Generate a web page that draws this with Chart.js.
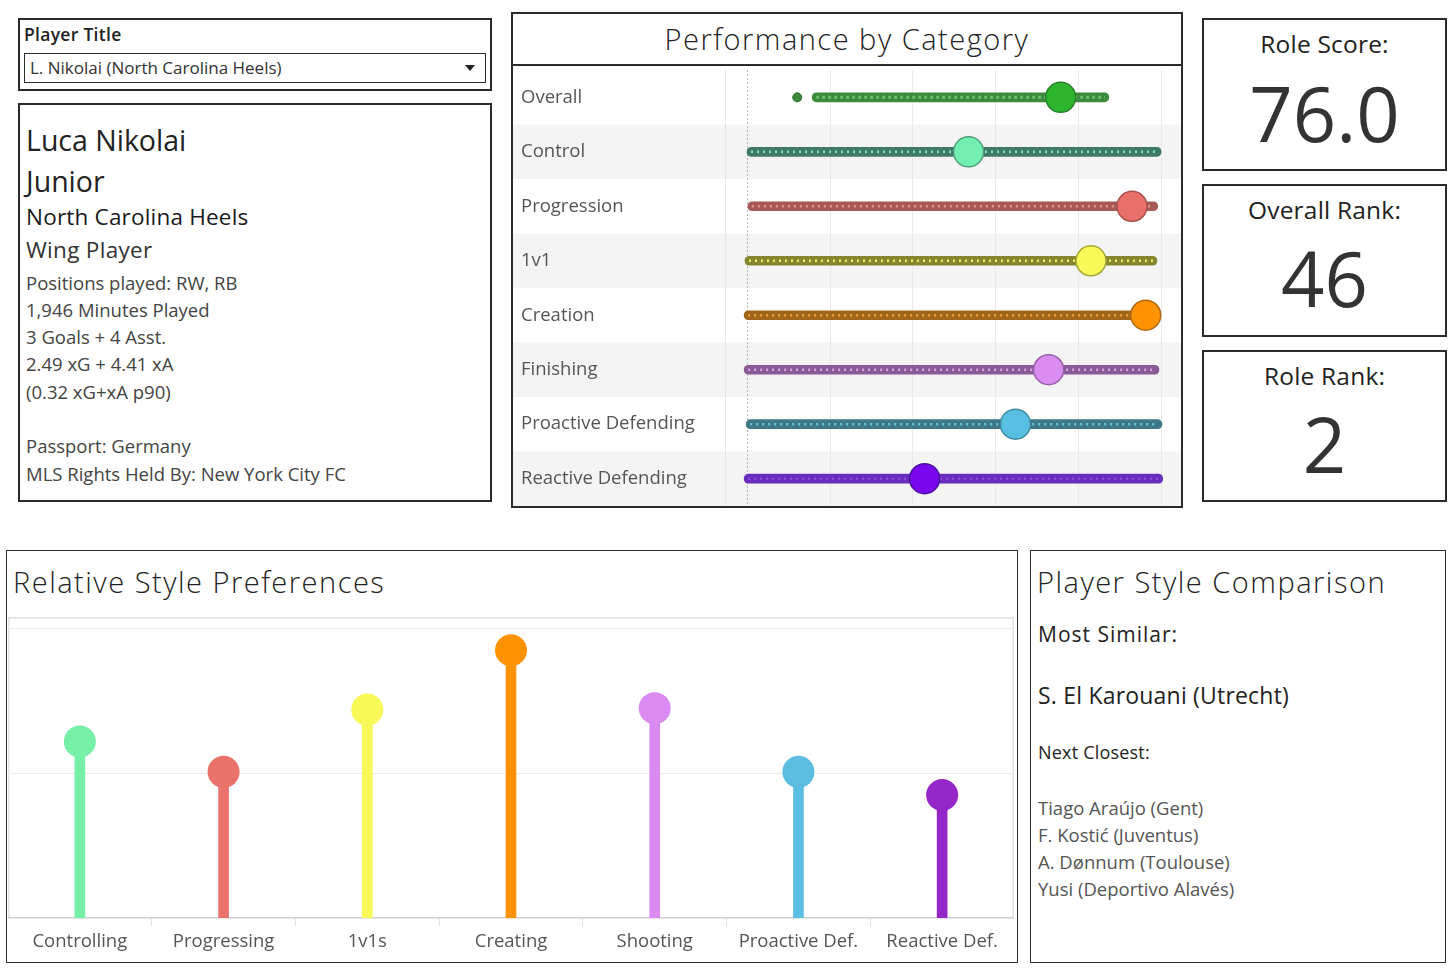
<!DOCTYPE html>
<html>
<head>
<meta charset="utf-8">
<script src="https://cdn.jsdelivr.net/npm/chart.js@4"></script>
<style>
  html, body { margin:0; padding:0; background:#fff; }
  body { width:1456px; height:979px; position:relative; overflow:hidden; font-family: "Open Sans", "Noto Sans", sans-serif; color:#333; }
  .box { position:absolute; box-sizing:border-box; border:2px solid #2b2b2b; background:#fff; }
  .t { position:absolute; white-space:nowrap; }
  .cv { position:absolute; }
  .ttl { font-size:29px; line-height:38px; color:#222; font-weight:300; letter-spacing:1.5px; }
</style>
</head>
<body>
<!-- Player title filter -->
<div class="box" style="left:18px;top:18px;width:474px;height:73px;"></div>
<div class="t" style="left:24px;top:22px;font-size:17.5px;line-height:24px;font-weight:600;color:#222;letter-spacing:0.3px;">Player Title</div>
<div class="box" style="left:24px;top:53px;width:462px;height:30px;border-width:1.5px;"></div>
<div class="t" style="left:30px;top:56px;font-size:17px;line-height:24px;color:#333;">L. Nikolai (North Carolina Heels)</div>
<div style="position:absolute;left:465px;top:65px;width:0;height:0;border-left:5px solid transparent;border-right:5px solid transparent;border-top:6px solid #222;"></div>

<!-- Player info -->
<div class="box" style="left:18px;top:103px;width:474px;height:399px;"></div>
<div class="t" style="left:26px;top:121px;font-size:28.5px;line-height:38px;color:#222;">Luca Nikolai</div>
<div class="t" style="left:26px;top:162px;font-size:28.5px;line-height:38px;color:#222;">Junior</div>
<div class="t" style="left:26px;top:203px;font-size:22.5px;line-height:28px;color:#1a1a1a;font-weight:500;letter-spacing:0.2px;">North Carolina Heels</div>
<div class="t" style="left:26px;top:236px;font-size:22.5px;line-height:28px;color:#333;letter-spacing:0.3px;">Wing Player</div>
<div id="infoLines"></div>

<!-- Performance by category -->
<div class="box" style="left:511px;top:12px;width:672px;height:496px;"></div>
<div class="box" style="left:511px;top:12px;width:672px;height:54px;border-width:2.5px;"></div>
<div class="t ttl" style="left:511px;width:672px;top:20px;text-align:center;">Performance by Category</div>
<div class="cv" style="left:513px;top:59px;width:668px;height:458px;"><canvas id="perf"></canvas></div>

<!-- Score boxes -->
<div class="box" style="left:1202px;top:18px;width:245px;height:153px;"></div>
<div class="t" style="left:1202px;width:245px;top:29px;text-align:center;font-size:24.5px;line-height:30px;color:#222;letter-spacing:0.2px;">Role Score:</div>
<div class="t" style="left:1202px;width:245px;top:66px;text-align:center;font-size:76px;line-height:94px;color:#333;">76.0</div>
<div class="box" style="left:1202px;top:184px;width:245px;height:153px;"></div>
<div class="t" style="left:1202px;width:245px;top:195px;text-align:center;font-size:24.5px;line-height:30px;color:#222;letter-spacing:0.2px;">Overall Rank:</div>
<div class="t" style="left:1202px;width:245px;top:231px;text-align:center;font-size:76px;line-height:94px;color:#333;">46</div>
<div class="box" style="left:1202px;top:350px;width:245px;height:152px;"></div>
<div class="t" style="left:1202px;width:245px;top:361px;text-align:center;font-size:24.5px;line-height:30px;color:#222;letter-spacing:0.2px;">Role Rank:</div>
<div class="t" style="left:1202px;width:245px;top:397px;text-align:center;font-size:76px;line-height:94px;color:#333;">2</div>

<!-- Relative style preferences -->
<div class="box" style="left:6px;top:550px;width:1012px;height:413px;border-width:1.5px;"></div>
<div class="t ttl" style="left:13px;top:563px;">Relative Style Preferences</div>
<div class="cv" style="left:8px;top:617px;width:1006px;height:343px;"><canvas id="style"></canvas></div>

<!-- Player style comparison -->
<div class="box" style="left:1030px;top:550px;width:416px;height:413px;border-width:1.5px;"></div>
<div class="t ttl" style="left:1037px;top:563px;">Player Style Comparison</div>
<div class="t" style="left:1038px;top:621px;font-size:21px;line-height:26px;color:#222;font-weight:500;letter-spacing:1px;">Most Similar:</div>
<div class="t" style="left:1038px;top:681px;font-size:23px;line-height:28px;color:#222;letter-spacing:0.2px;">S. El Karouani (Utrecht)</div>
<div class="t" style="left:1038px;top:741px;font-size:18px;line-height:22px;color:#222;letter-spacing:0.2px;">Next Closest:</div>
<div id="simLines"></div>

<script>
// ---------- data ----------
const infoLines = ['Positions played: RW, RB', '1,946 Minutes Played', '3 Goals + 4 Asst.', '2.49 xG + 4.41 xA', '(0.32 xG+xA p90)', '', 'Passport: Germany', 'MLS Rights Held By: New York City FC'];
const nextClosest = ['Tiago Araújo (Gent)', 'F. Kostić (Juventus)', 'A. Dønnum (Toulouse)', 'Yusi (Deportivo Alavés)'];

const perfCategories = ['Overall', 'Control', 'Progression', '1v1', 'Creation', 'Finishing', 'Proactive Defending', 'Reactive Defending'];
const playerPercentiles = [75.6, 53.4, 92.8, 82.9, 96.1, 72.7, 64.7, 42.8];
const rangeMin = [15.7, 0.0, 0.2, -0.5, -0.7, -0.7, -0.2, -0.7];
const rangeMax = [87.2, 99.8, 99.0, 98.8, 99.3, 99.3, 100.0, 100.2];
const overallOutlier = [12.1];
const perfTicks = [20, 40, 60, 80, 100];

const styleCategories = ['Controlling', 'Progressing', '1v1s', 'Creating', 'Shooting', 'Proactive Def.', 'Reactive Def.'];
const styleValues = [1.22, 1.01, 1.44, 1.85, 1.45, 1.01, 0.85];
const styleTicks = [1, 2];

// ---------- colours ----------
const dotColors  = ['#2eb52e', '#74efb2', '#e9706a', '#f8f858', '#ff9200', '#da8cf0', '#58bfe2', '#7a06ee'];
const dotBorders = ['#2a7f2a', '#4f9f7c', '#a8524c', '#a7a73a', '#b06a10', '#9a62aa', '#3e8aa2', '#4c10a0'];
const barColors  = ['#3d8a3d', '#3f7a66', '#a65a55', '#868631', '#a0661c', '#8a5a96', '#3f7788', '#6a2cbc'];
const barDots    = ['#66bf66', '#7fe3bb', '#e9948a', '#ecec62', '#f39d35', '#d9a0eb', '#6cc5e0', '#8b48de'];
const styleColors = ['#76f0a6', '#e9736a', '#f8f858', '#ff9200', '#da8af0', '#5bbde0', '#9526c8'];

// ---------- text lists ----------
const info = document.getElementById('infoLines');
infoLines.forEach((s, i) => {
  const d = document.createElement('div');
  d.className = 't';
  d.style.cssText = `left:26px;top:${269.5 + i * 27.3}px;font-size:18.5px;line-height:25px;color:#444;`;
  d.textContent = s;
  info.appendChild(d);
});
const sim = document.getElementById('simLines');
nextClosest.forEach((s, i) => {
  const d = document.createElement('div');
  d.className = 't';
  d.style.cssText = `left:1038px;top:${794.5 + i * 27.3}px;font-size:18.5px;line-height:25px;color:#555;`;
  d.textContent = s;
  sim.appendChild(d);
});

Chart.defaults.font.family = '"Open Sans", "Noto Sans", sans-serif';
Chart.defaults.animation = false;

// ---------- performance chart ----------
const bandPlugin = {
  id: 'bands',
  beforeDraw(chart) {
    const y = chart.scales.y, ctx = chart.ctx;
    const h = (chart.chartArea.bottom - chart.chartArea.top) / perfCategories.length;
    ctx.save();
    perfCategories.forEach((c, i) => {
      if (i % 2 === 1) {
        const py = y.getPixelForValue(i);
        ctx.fillStyle = '#f4f4f4';
        ctx.fillRect(0, py - h / 2, chart.width, h);
      }
    });
    ctx.restore();
  },
  beforeDatasetsDraw(chart) {
    const x = chart.scales.x, ctx = chart.ctx, a = chart.chartArea;
    ctx.save();
    ctx.strokeStyle = '#b5b5b5';
    ctx.lineWidth = 1;
    ctx.setLineDash([2, 2]);
    const px = Math.round(x.getPixelForValue(0)) + 0.5;
    ctx.beginPath(); ctx.moveTo(px, a.top); ctx.lineTo(px, a.bottom); ctx.stroke();
    ctx.restore();
  },
  afterDatasetDraw(chart, args) {
    if (args.index !== 0) return;
    const ctx = chart.ctx;
    ctx.save();
    args.meta.data.forEach((el, i) => {
      const p = el.getProps(['x', 'y', 'base'], true);
      const x0 = Math.min(p.x, p.base) + 4, x1 = Math.max(p.x, p.base) - 4;
      ctx.strokeStyle = barDots[i];
      ctx.lineWidth = i === 0 ? 3 : 2.5;
      ctx.setLineDash(i === 0 ? [3, 3] : [2, 4]);
      ctx.beginPath(); ctx.moveTo(x0, p.y); ctx.lineTo(x1, p.y); ctx.stroke();
    });
    ctx.restore();
  }
};

new Chart(document.getElementById('perf'), {
  type: 'bar',
  data: {
    labels: perfCategories,
    datasets: [
      {
        type: 'bar', indexAxis: 'y', order: 3,
        data: perfCategories.map((c, i) => [rangeMin[i], rangeMax[i]]),
        backgroundColor: barColors, borderWidth: 0,
        borderRadius: 5, borderSkipped: false, barThickness: 9
      },
      {
        type: 'line', indexAxis: 'y', order: 2, showLine: false,
        data: perfCategories.map((c, i) => i === 0 ? overallOutlier[0] : null),
        pointRadius: 4.5, pointBackgroundColor: barColors[0], pointBorderColor: '#2f6f2f', pointBorderWidth: 1
      },
      {
        type: 'line', indexAxis: 'y', order: 1, showLine: false,
        data: playerPercentiles,
        pointRadius: 15, pointHoverRadius: 15,
        pointBackgroundColor: dotColors, pointBorderColor: dotBorders, pointBorderWidth: 1.5
      }
    ]
  },
  options: {
    indexAxis: 'y',
    responsive: true, maintainAspectRatio: false,
    layout: { autoPadding: false, padding: { left: 8, right: 0, top: 0, bottom: 0 } },
    plugins: { legend: { display: false }, tooltip: { enabled: false } },
    scales: {
      x: {
        type: 'linear', min: -5.31, max: 104.6,
        afterBuildTicks: s => { s.ticks = perfTicks.map(v => ({ value: v })); },
        ticks: { display: false },
        grid: { color: '#e9e9e9', drawTicks: false },
        border: { display: false }
      },
      y: {
        type: 'category', offset: true,
        afterFit: s => { s.width = 204; },
        ticks: { crossAlign: 'far', color: '#555', font: { size: 18.5 }, padding: 0 },
        grid: { display: false, drawTicks: false },
        border: { display: true, color: '#e6e6e6' }
      }
    }
  },
  plugins: [bandPlugin]
});

// ---------- style preference lollipop ----------
const framePlugin = {
  id: 'frame',
  beforeDraw(chart) {
    const a = chart.chartArea, ctx = chart.ctx;
    ctx.save();
    ctx.strokeStyle = '#e2e2e2';
    ctx.lineWidth = 1.5;
    ctx.beginPath();
    ctx.moveTo(a.left + 0.75, a.bottom); ctx.lineTo(a.left + 0.75, a.top + 0.75);
    ctx.lineTo(a.right - 0.75, a.top + 0.75); ctx.lineTo(a.right - 0.75, a.bottom);
    ctx.stroke();
    ctx.restore();
  }
};

new Chart(document.getElementById('style'), {
  type: 'bar',
  data: {
    labels: styleCategories,
    datasets: [
      {
        type: 'line', order: 1, showLine: false, data: styleValues,
        pointRadius: 16, pointHoverRadius: 16, pointBorderWidth: 0,
        pointBackgroundColor: styleColors
      },
      {
        type: 'bar', order: 2, data: styleValues,
        backgroundColor: styleColors, borderWidth: 0, barThickness: 10
      }
    ]
  },
  options: {
    responsive: true, maintainAspectRatio: false,
    layout: { autoPadding: false, padding: 0 },
    plugins: { legend: { display: false }, tooltip: { enabled: false } },
    scales: {
      x: {
        type: 'category', offset: true,
        afterFit: s => { s.height = 42; },
        ticks: { color: '#555', font: { size: 18.5 }, padding: 5, maxRotation: 0, autoSkip: false },
        grid: { offset: true, drawOnChartArea: false, drawTicks: true, tickLength: 8, color: '#e3e3e3' },
        border: { display: true, color: '#cfcfcf', width: 1.5 }
      },
      y: {
        type: 'linear', min: 0, max: 2.08,
        afterFit: s => { s.width = 0; },
        afterBuildTicks: s => { s.ticks = styleTicks.map(v => ({ value: v })); },
        ticks: { display: false },
        grid: { color: '#ececec', drawTicks: false },
        border: { display: false }
      }
    }
  },
  plugins: [framePlugin]
});
</script>
</body>
</html>
